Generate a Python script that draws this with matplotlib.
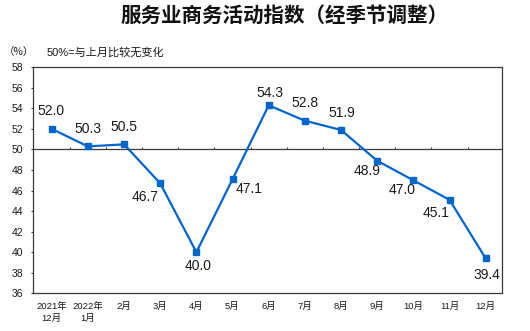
import matplotlib
matplotlib.use("Agg")
import matplotlib.pyplot as plt
import numpy as np

# ---- data ----
categories = ["2021年\n12月", "2022年\n1月", "2月", "3月", "4月", "5月", "6月",
              "7月", "8月", "9月", "10月", "11月", "12月"]
values = [52.0, 50.3, 50.5, 46.7, 40.0, 47.1, 54.3, 52.8, 51.9, 48.9, 47.0, 45.1, 39.4]
y_ticks = [36, 38, 40, 42, 44, 46, 48, 50, 52, 54, 56, 58]
title = "服务业商务活动指数（经季节调整）"
unit_note = "（%）"
base_note = "50%=与上月比较无变化"
baseline = 50

# label offsets in points (styling)
label_offsets = [(-0.7, 12.7), (0, 12.5), (0, 12.5), (-10.8, -9.6), (1.2, -9.9),
                 (12.2, -7.2), (1.2, 8.6), (0, 13), (0.3, 12.5), (-7.2, -7.4),
                 (-7.9, -7.2), (-9.4, -9.4), (0.7, -12)]

CJK = ["Noto Sans CJK SC", "DejaVu Sans"]
MIX = ["Liberation Sans", "Noto Sans CJK SC", "DejaVu Sans"]
plt.rcParams["font.family"] = MIX

W, H = 530, 331
fig = plt.figure(figsize=(W / 100, H / 100), dpi=100)
ax = fig.add_axes([33.3 / W, 1 - 293.3 / H, (502.3 - 33.3) / W, (293.3 - 67.3) / H])

x = np.arange(len(categories))
line_color = "#0066CC"
spine_color = "#3a3a3a"

ax.axhline(baseline, color=spine_color, lw=0.9, zorder=2)
bounds = x[:-1] + 0.5
ax.vlines(bounds, baseline, baseline + 0.2, color=spine_color, lw=0.8, zorder=2)

ax.plot(x, values, color=line_color, lw=1.6, marker="s", markersize=3.8,
        markerfacecolor=line_color, markeredgecolor=line_color, zorder=3)

for xi, v, (dx, dy) in zip(x, values, label_offsets):
    ax.annotate(f"{v:.1f}", (xi, v), xytext=(dx, dy), textcoords="offset points",
                ha="center", va="center", fontsize=10, color="#1a1a1a",
                family=["Liberation Sans", "DejaVu Sans"])

ax.set_xlim(-0.51, len(categories) - 1 + 0.46)
ax.set_ylim(y_ticks[0], y_ticks[-1])
ax.set_yticks(y_ticks)
ax.set_yticklabels([str(t) for t in y_ticks], fontsize=7.5, color="#1a1a1a")
ax.tick_params(axis="y", direction="out", length=1.5, width=0.8, color=spine_color, pad=6)

ax.set_xticks(x)
ax.set_xticklabels(categories, fontsize=6.8, color="#1a1a1a", linespacing=1.45)
ax.tick_params(axis="x", length=0, pad=6)

for s in ax.spines.values():
    s.set_color(spine_color)
    s.set_linewidth(0.9)

fig.text(284.7 / W, 1 - 15 / H, title, ha="center", va="center", fontsize=14.8,
         fontweight="bold", family=CJK, color="#111111")
fig.text(3.5 / W, 1 - 52 / H, unit_note, ha="left", va="center", fontsize=7.5,
         family=CJK, color="#1a1a1a")
fig.text(46.7 / W, 1 - 52 / H, base_note, ha="left", va="center", fontsize=8,
         family=MIX, color="#1a1a1a")

fig.savefig("out.png", dpi=100)
